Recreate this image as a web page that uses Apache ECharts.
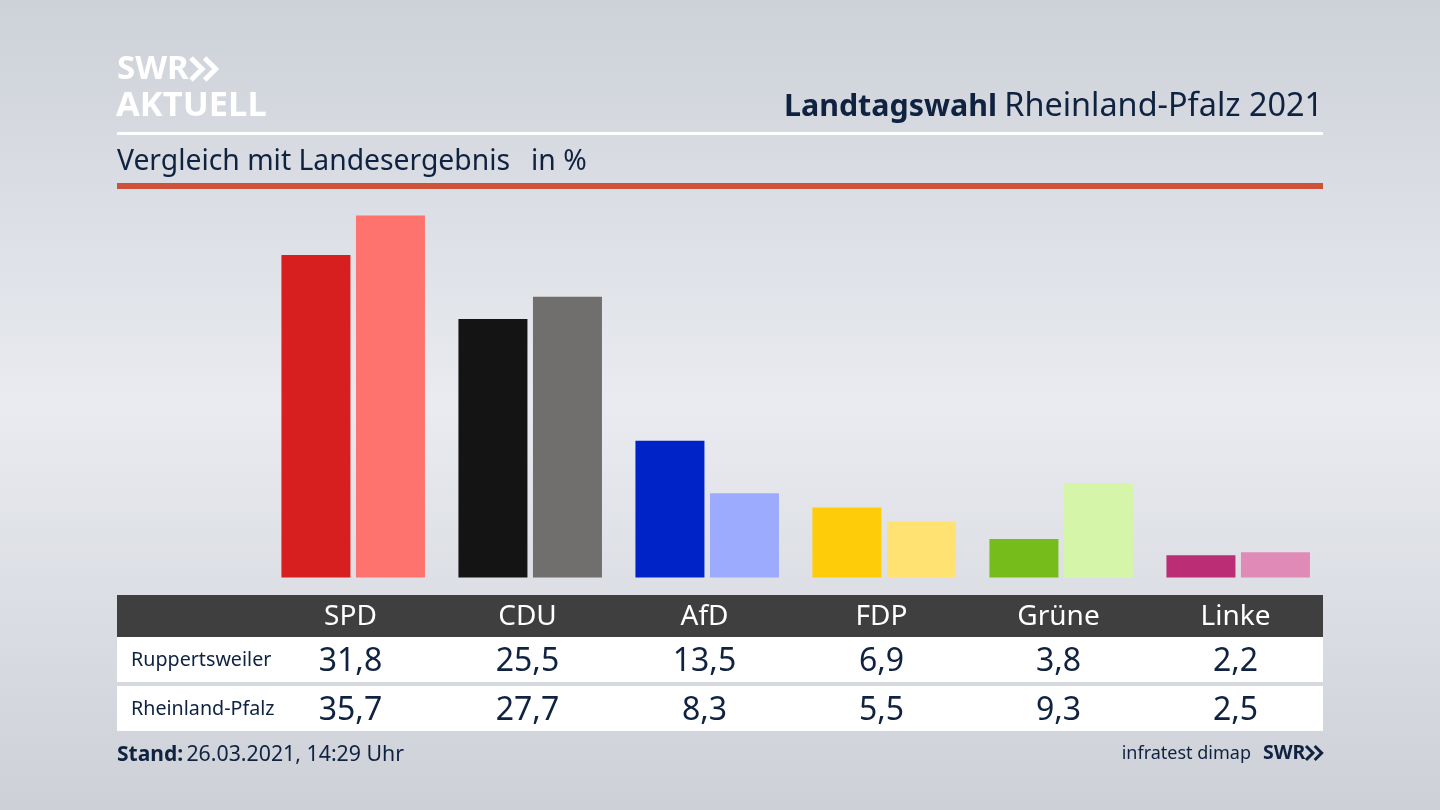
<!DOCTYPE html>
<html>
<head>
<meta charset="utf-8">
<title>Landtagswahl Rheinland-Pfalz 2021</title>
<style>
html, body { margin: 0; padding: 0; width: 1440px; height: 810px; overflow: hidden; }
#chart { width: 1440px; height: 810px; }
</style>
<script src="https://cdn.jsdelivr.net/npm/echarts@6/dist/echarts.min.js"></script>
</head>
<body>
<div id="chart"></div>
<script>
var parties = ['SPD', 'CDU', 'AfD', 'FDP', 'Grüne', 'Linke'];
var ruppertsweiler = [31.8, 25.5, 13.5, 6.9, 3.8, 2.2];
var rheinlandPfalz = [35.7, 27.7, 8.3, 5.5, 9.3, 2.5];
var colorsLocal = ['#d81f1f', '#141414', '#0023c8', '#ffcc0a', '#76bc1b', '#bb2d74'];
var colorsState = ['#ff736e', '#706f6d', '#9dabff', '#ffe271', '#d5f5a9', '#e08ab8'];
var rowNames = ['Ruppertsweiler', 'Rheinland-Pfalz'];

var FONT = '"Noto Sans", sans-serif';
var NAVY = '#0f2240';

// Dezimalkomma wie im Original
function komma(v) {
    return v.toFixed(1).replace('.', ',');
}

function colored(values, colors) {
    return values.map(function (v, i) {
        return { value: v, itemStyle: { color: colors[i] } };
    });
}

function tableAxis(data, margin, color, size) {
    return {
        type: 'category',
        gridIndex: 1,
        position: 'bottom',
        data: data,
        axisLine: { show: false },
        axisTick: { show: false },
        axisLabel: {
            margin: margin,
            color: color,
            fontSize: size,
            fontFamily: FONT,
            verticalAlign: 'middle',
            interval: 0
        },
        z: 5
    };
}

function rect(x, y, w, h, fill) {
    return { type: 'rect', z: -1, shape: { x: x, y: y, width: w, height: h }, style: { fill: fill } };
}

function label(x, y, text, size, color, weight, align) {
    return {
        type: 'text', x: x, y: y, z: 3,
        style: {
            text: text, fontSize: size, fontFamily: FONT, fill: color,
            fontWeight: weight || 'normal', align: align || 'left', verticalAlign: 'middle'
        }
    };
}

function chevrons(x, y, h, color, width) {
    var out = [];
    [0, h * 0.62].forEach(function (dx) {
        out.push({
            type: 'polyline', z: 3,
            shape: { points: [[x + dx, y], [x + dx + h * 0.5, y + h / 2], [x + dx, y + h]] },
            style: { stroke: color, lineWidth: width, fill: null }
        });
    });
    return out;
}

var chart = echarts.init(document.getElementById('chart'));

var option = {
    animation: false,
    backgroundColor: {
        type: 'linear', x: 0, y: 0, x2: 0, y2: 1,
        colorStops: [
            { offset: 0, color: '#cdd1d8' },
            { offset: 0.5, color: '#e9ebf0' },
            { offset: 1, color: '#cdd0d7' }
        ]
    },
    grid: [
        { left: 264.7, top: 212.5, width: 1062, height: 365 },
        { left: 262, top: 212, width: 1062, height: 365 }
    ],
    xAxis: [
        { type: 'category', gridIndex: 0, data: parties, show: false },
        tableAxis(parties, 40, '#ffffff', 28),
        tableAxis(ruppertsweiler.map(komma), 85, NAVY, 32),
        tableAxis(rheinlandPfalz.map(komma), 134, NAVY, 32)
    ],
    yAxis: [
        { type: 'value', gridIndex: 0, min: 0, max: 36, show: false },
        { type: 'value', gridIndex: 1, min: 0, max: 36, show: false }
    ],
    series: [
        { name: rowNames[0], type: 'bar', barWidth: 69, barGap: '8%', data: colored(ruppertsweiler, colorsLocal) },
        { name: rowNames[1], type: 'bar', barWidth: 69, barGap: '8%', data: colored(rheinlandPfalz, colorsState) }
    ],
    graphic: [
        rect(117, 132, 1206, 3, '#ffffff'),
        rect(117, 183, 1206, 6, '#cd5239'),
        rect(117, 595, 1206, 42, '#3f3f3f'),
        rect(117, 637, 1206, 45, '#ffffff'),
        rect(117, 686, 1206, 45, '#ffffff'),
        label(117, 70, 'SWR', 33, '#ffffff', 'bold'),
        label(116, 106, 'AKTUELL', 34.5, '#ffffff', 'bold'),
        label(997, 107, 'Landtagswahl', 30.4, NAVY, 'bold', 'right'),
        label(1323, 107, 'Rheinland-Pfalz 2021', 32.4, NAVY, 'normal', 'right'),
        label(117, 162, 'Vergleich mit Landesergebnis', 28.3, NAVY),
        label(531, 162, 'in %', 28.3, NAVY),
        label(131, 660, rowNames[0], 19.7, NAVY),
        label(131, 709, rowNames[1], 19.7, NAVY),
        {
            type: 'text', x: 117, y: 755, z: 3,
            style: {
                text: '{b|Stand:} {n|26.03.2021, 14:29 Uhr}',
                verticalAlign: 'middle',
                rich: {
                    b: { fontSize: 21, fontWeight: 'bold', fontFamily: FONT, fill: NAVY },
                    n: { fontSize: 21.3, fontFamily: FONT, fill: NAVY }
                }
            }
        },
        label(1251, 754, 'infratest dimap', 18, NAVY, 'normal', 'right'),
        label(1263, 753, 'SWR', 19.5, NAVY, 'bold')
    ].concat(chevrons(191, 58, 22, '#ffffff', 5), chevrons(1306, 746, 14, NAVY, 3))
};

chart.setOption(option);
</script>
</body>
</html>
